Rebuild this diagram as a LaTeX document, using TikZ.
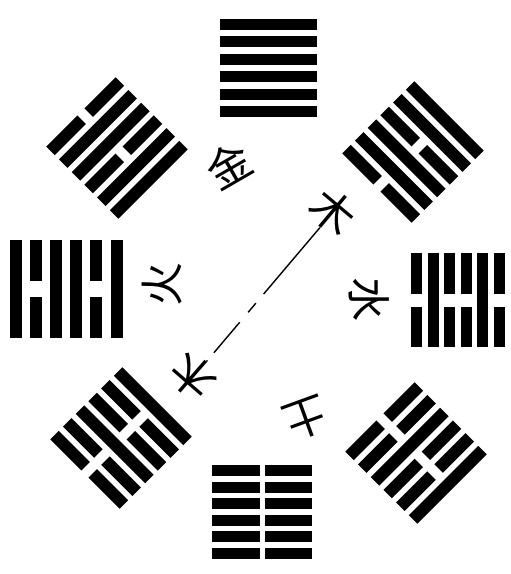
\documentclass[tikz,border=0pt]{standalone}
\usepackage{fontspec}
\newfontfamily\cjk{Noto Sans CJK SC}
\tikzset{
  bar/.style={fill=black},
  glyph/.style={font=\cjk\fontsize{44}{44}\selectfont, inner sep=0pt},
  link/.style={line width=1.4pt, dash pattern=on 87pt off 12pt on 12pt off 13pt on 40pt off 10pt}
}
% #1 x, #2 y, #3 angle, #4 pattern (bottom to top), #5 length, #6 thickness, #7 spacing, #8 gap
\newcommand\hexa[8]{%
  \begin{scope}[shift={(#1,#2)},rotate=#3]
    \foreach \b [count=\k] in {#4}{
      \pgfmathsetmacro\yc{(3.5-\k)*#7}
      \ifnum\b=1
        \fill[bar] (-#5/2,\yc-#6/2) rectangle (#5/2,\yc+#6/2);
      \else
        \fill[bar] (-#5/2,\yc-#6/2) rectangle (-#8/2,\yc+#6/2);
        \fill[bar] (#8/2,\yc-#6/2) rectangle (#5/2,\yc+#6/2);
      \fi
    }
  \end{scope}}
\begin{document}
\begin{tikzpicture}[x=1pt,y=-1pt]
  \fill[white] (0,0) rectangle (511,574);
  \useasboundingbox (0,0) rectangle (511,574);
  % eight hexagrams (Fuxi arrangement), bottom line toward the centre
  \hexa{268}{68}{0}{1,1,1,1,1,1}{97}{11}{17.5}{0}
  \hexa{117}{148}{45}{1,1,0,1,1,0}{98}{12}{18}{10}
  \hexa{66}{289}{90}{1,0,1,1,0,1}{98}{12}{20.2}{16}
  \hexa{121}{438}{135}{1,0,0,1,0,0}{98}{12}{18}{10}
  \hexa{262}{512}{180}{0,0,0,0,0,0}{100}{11}{16.6}{5}
  \hexa{416}{453}{225}{0,0,1,0,0,1}{98}{12}{18}{10}
  \hexa{458}{300}{270}{0,1,0,0,1,0}{94}{11}{16.5}{13}
  \hexa{413}{152}{315}{0,1,1,0,1,1}{98}{12}{18}{10}
  % characters
  \node[glyph, rotate=30] (jin) at (229,165) {金};
  \node[glyph, rotate=90] (huo) at (162,284) {火};
  \node[glyph, rotate=-90] (shui) at (369,299) {水};
  \node[glyph, rotate=200] (tu) at (306,419) {土};
  \node[glyph, rotate=-40] (mu) at (333,212) {木};
  \node[glyph, rotate=139] (ml) at (193,377) {木};
  \draw[link] (mu.south) -- (ml.south);
\end{tikzpicture}
\end{document}
